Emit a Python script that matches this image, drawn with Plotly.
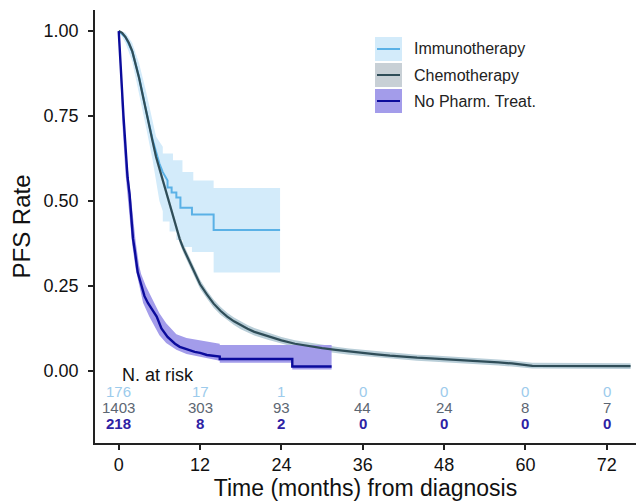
import plotly.graph_objects as go

# ---------------- data ----------------
chemo_t = [0, 0.5, 1, 1.5, 2, 2.5, 3, 3.5, 4, 4.5, 5, 5.5, 6, 6.5, 7, 7.5, 8, 8.5, 9, 9.5,
           10, 11, 12, 13, 14, 15, 16, 17, 18, 19, 20, 22, 24, 26, 28, 30, 32, 34, 36, 38,
           40, 42, 44, 46, 48, 50, 52, 54, 56, 58, 60, 61, 75.5]
chemo_s = [1.0, 0.995, 0.982, 0.965, 0.94, 0.905, 0.862, 0.815, 0.765, 0.72,
           0.675, 0.63, 0.595, 0.56, 0.525, 0.49, 0.452, 0.418, 0.388, 0.362,
           0.34, 0.30, 0.255, 0.225, 0.198, 0.177, 0.16, 0.146, 0.134, 0.124,
           0.115, 0.102, 0.09, 0.08, 0.073, 0.067, 0.062, 0.057, 0.053, 0.049,
           0.045, 0.041, 0.039, 0.037, 0.035, 0.033, 0.031, 0.028, 0.025, 0.022,
           0.018, 0.015, 0.014]
chemo_up = [1.0, 0.998, 0.988, 0.973, 0.95, 0.916, 0.874, 0.828, 0.778, 0.733,
            0.688, 0.643, 0.608, 0.573, 0.538, 0.503, 0.465, 0.431, 0.401, 0.375,
            0.353, 0.313, 0.268, 0.237, 0.21, 0.189, 0.171, 0.157, 0.145, 0.135,
            0.126, 0.112, 0.1, 0.09, 0.083, 0.077, 0.071, 0.066, 0.062, 0.058,
            0.054, 0.05, 0.048, 0.046, 0.044, 0.042, 0.04, 0.037, 0.034, 0.031,
            0.027, 0.024, 0.023]
chemo_lo = [1.0, 0.99, 0.976, 0.957, 0.93, 0.894, 0.85, 0.802, 0.752, 0.707,
            0.662, 0.617, 0.582, 0.547, 0.512, 0.477, 0.439, 0.405, 0.375, 0.349,
            0.327, 0.287, 0.242, 0.213, 0.186, 0.165, 0.149, 0.135, 0.123, 0.113,
            0.104, 0.092, 0.08, 0.07, 0.063, 0.057, 0.053, 0.048, 0.044, 0.04,
            0.036, 0.032, 0.03, 0.028, 0.026, 0.024, 0.022, 0.019, 0.016, 0.013,
            0.01, 0.007, 0.006]

immuno_t = [0, 1, 2, 3, 4, 5, 6, 6.5, 7.2, 7.2, 7.8, 7.8, 8.5, 8.5, 9.1, 9.1, 10.8, 10.8, 14.0, 14.0, 23.8]
immuno_s = [1, 0.982, 0.94, 0.865, 0.77, 0.68, 0.61, 0.585, 0.56, 0.54, 0.54, 0.525, 0.525, 0.51,
            0.51, 0.48, 0.48, 0.46, 0.46, 0.415, 0.415]
immuno_up_t = [0, 1, 2, 3, 4, 5, 5.5, 6.5, 6.5, 8, 8, 9.4, 9.4, 11, 11, 14, 14, 23.8]
immuno_up = [1, 0.995, 0.965, 0.905, 0.825, 0.73, 0.69, 0.66, 0.64, 0.64, 0.62, 0.62, 0.585,
             0.585, 0.56, 0.56, 0.538, 0.538]
immuno_lo_t = [0, 1, 2, 3, 4, 5, 5.5, 6, 6.5, 6.5, 7.5, 7.5, 8.5, 8.5, 9.5, 9.5, 10.8, 10.8, 14, 14, 23.8]
immuno_lo = [1, 0.965, 0.91, 0.82, 0.72, 0.62, 0.56, 0.5, 0.47, 0.44, 0.44, 0.41, 0.41, 0.385,
             0.385, 0.365, 0.365, 0.35, 0.35, 0.29, 0.29]

nopharm_t = [0, 0.2, 0.4, 0.7, 0.9, 1.1, 1.3, 1.6, 1.9, 2.1, 2.4, 2.8, 3.3, 3.8, 4.3, 4.9, 5.6,
             6.3, 7.2, 8.3, 9.0, 10.0, 11.2, 12.0, 13.0, 14.9, 14.9, 25.6, 25.6, 31.4]
nopharm_s = [1, 0.92, 0.835, 0.75, 0.69, 0.62, 0.57, 0.52, 0.44, 0.39, 0.35, 0.29, 0.255, 0.22,
             0.2, 0.18, 0.16, 0.125, 0.1, 0.08, 0.071, 0.064, 0.056, 0.053, 0.047, 0.042, 0.035,
             0.035, 0.013, 0.013]
nopharm_up_t = [0, 0.5, 1, 1.5, 2, 2.5, 3.0, 3.3, 4, 5, 6, 7, 8.5, 10, 12, 13, 14.9, 14.9, 31.4]
nopharm_up = [1, 0.8, 0.66, 0.56, 0.46, 0.38, 0.31, 0.285, 0.25, 0.21, 0.17, 0.14, 0.108, 0.097,
              0.09, 0.085, 0.08, 0.076, 0.076]
nopharm_lo_t = [0, 0.5, 1, 1.5, 2, 2.5, 3, 3.6, 4.5, 5, 6, 7, 8.5, 10, 12, 14.9, 14.9, 25.6, 25.6, 31.4]
nopharm_lo = [1, 0.74, 0.58, 0.48, 0.37, 0.3, 0.25, 0.2, 0.16, 0.14, 0.105, 0.082, 0.062, 0.05,
              0.041, 0.03, 0.024, 0.024, 0.004, 0.004]

risk_times = [0, 12, 24, 36, 48, 60, 72]
immuno_risk = [176, 17, 1, 0, 0, 0, 0]
chemo_risk = [1403, 303, 93, 44, 24, 8, 7]
nopharm_risk = [218, 8, 2, 0, 0, 0, 0]

group_names = ["Immunotherapy", "Chemotherapy", "No Pharm. Treat."]
y_ticks = [0, 0.25, 0.5, 0.75, 1.0]
x_ticks = [0, 12, 24, 36, 48, 60, 72]

# ---------------- styles ----------------
FONT = "Liberation Sans, Arial, sans-serif"
C_IM_LINE, C_IM_FILL = "#5AB1E6", "#D3EBFA"
C_CH_LINE, C_CH_FILL = "#2F4D58", "#B9CED8"
C_NP_LINE, C_NP_FILL = "#0B0B9C", "#A39CEA"
C_IM_TXT, C_CH_TXT, C_NP_TXT = "#9CCBEC", "#5C6672", "#2E22A4"

W, H = 638, 504
L, R, T, B = 95, 2, 10, 61
XR = [-3.5, 76.3]
YR = [-0.212, 1.062]

fig = go.Figure()


def band(tlo, lo, tup, up, color):
    fig.add_trace(go.Scatter(x=tlo, y=lo, mode="lines", line=dict(width=0, color=color),
                             showlegend=False, hoverinfo="skip"))
    fig.add_trace(go.Scatter(x=tup, y=up, mode="lines", line=dict(width=0, color=color),
                             fill="tonexty", fillcolor=color, showlegend=False, hoverinfo="skip"))


band(immuno_lo_t, immuno_lo, immuno_up_t, immuno_up, C_IM_FILL)
band(chemo_t, chemo_lo, chemo_t, chemo_up, C_CH_FILL)
band(nopharm_lo_t, nopharm_lo, nopharm_up_t, nopharm_up, C_NP_FILL)

fig.add_trace(go.Scatter(x=immuno_t, y=immuno_s, mode="lines", line=dict(color=C_IM_LINE, width=2),
                         name=group_names[0], showlegend=False))
fig.add_trace(go.Scatter(x=chemo_t, y=chemo_s, mode="lines", line=dict(color=C_CH_LINE, width=2.2),
                         name=group_names[1], showlegend=False))
fig.add_trace(go.Scatter(x=nopharm_t, y=nopharm_s, mode="lines", line=dict(color=C_NP_LINE, width=2.4),
                         name=group_names[2], showlegend=False))

# number at risk table
fig.add_annotation(x=0.2, y=-0.012, text="N. at risk", showarrow=False, xanchor="left",
                   yanchor="middle", font=dict(family=FONT, size=18, color="#111111"))
for vals, yv, col, bold in [(immuno_risk, -0.061, C_IM_TXT, False),
                            (chemo_risk, -0.107, C_CH_TXT, False),
                            (nopharm_risk, -0.156, C_NP_TXT, True)]:
    for t, v in zip(risk_times, vals):
        txt = f"<b>{v}</b>" if bold else str(v)
        fig.add_annotation(x=t, y=yv, text=txt, showarrow=False, xanchor="center",
                           yanchor="middle", font=dict(family=FONT, size=15, color=col))

# manual legend (pixel positions converted to paper coords)
pw, ph = W - L - R, H - T - B


def px(xp):
    return (xp - L) / pw


def py(yp):
    return 1 - (yp - T) / ph


leg = [(group_names[0], C_IM_FILL, C_IM_LINE, 49),
       (group_names[1], "#C8D0D6", C_CH_LINE, 75),
       (group_names[2], C_NP_FILL, C_NP_LINE, 101)]
for name, fc, lc, yc in leg:
    fig.add_shape(type="rect", xref="paper", yref="paper", x0=px(375), x1=px(402),
                  y0=py(yc + 12), y1=py(yc - 12), fillcolor=fc, line=dict(width=0), layer="above")
    fig.add_shape(type="line", xref="paper", yref="paper", x0=px(377), x1=px(400),
                  y0=py(yc), y1=py(yc), line=dict(color=lc, width=2), layer="above")
    fig.add_annotation(xref="paper", yref="paper", x=px(412), y=py(yc), text=name,
                       showarrow=False, xanchor="left", yanchor="middle",
                       font=dict(family=FONT, size=16, color="#222222"))

fig.update_layout(
    width=W, height=H,
    margin=dict(l=L, r=R, t=T, b=B, pad=0),
    paper_bgcolor="white", plot_bgcolor="white",
    showlegend=False,
    font=dict(family=FONT, color="#111111"),
    xaxis=dict(range=XR, tickvals=x_ticks, ticks="outside", ticklen=5, tickwidth=1.5,
               tickcolor="#222222", showline=True, linecolor="#222222", linewidth=1.5,
               showgrid=False, zeroline=False, tickfont=dict(size=18, family=FONT, color="#111111"),
               title=dict(text="Time (months) from diagnosis", standoff=4,
                          font=dict(size=23, family=FONT, color="#111111"))),
    yaxis=dict(range=YR, tickvals=y_ticks, tickformat=".2f", ticks="outside", ticklen=5,
               tickwidth=1.5, tickcolor="#222222", showline=True, linecolor="#222222",
               linewidth=1.5, showgrid=False, zeroline=False, ticklabelstandoff=6,
               tickfont=dict(size=18, family=FONT, color="#111111"),
               title=dict(text="PFS Rate", standoff=6,
                          font=dict(size=24, family=FONT, color="#111111"))),
)

fig.write_html("out.html")
